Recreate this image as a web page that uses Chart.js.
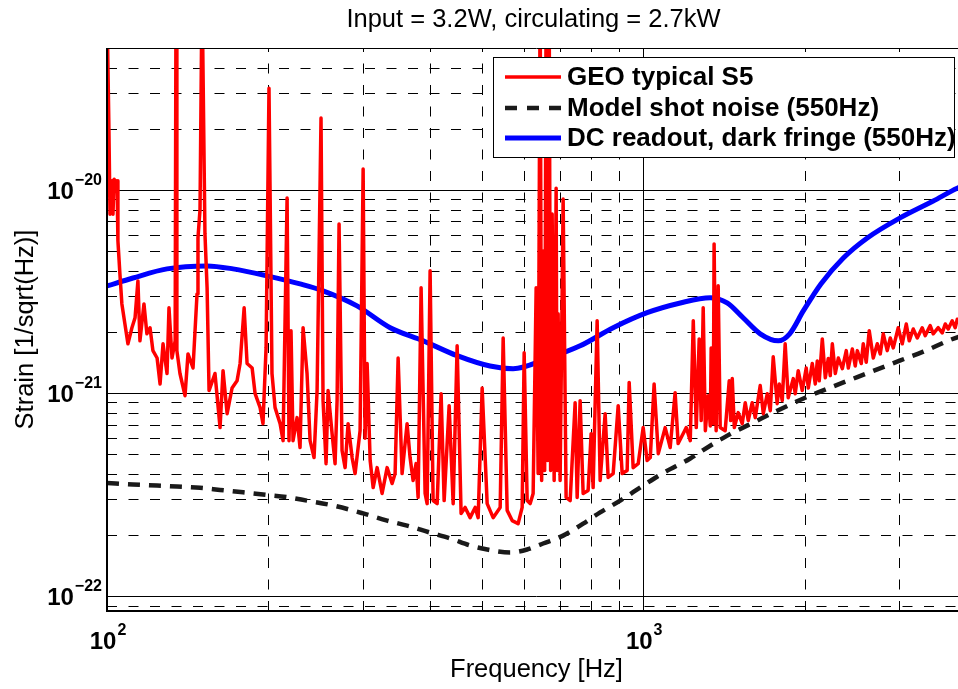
<!DOCTYPE html>
<html>
<head>
<meta charset="utf-8">
<script src="https://cdn.jsdelivr.net/npm/chart.js@4.4.1/dist/chart.umd.min.js"></script>
<style>
html, body { margin: 0; padding: 0; background: #fff; overflow: hidden; }
#wrap { width: 958px; height: 689px; overflow: hidden; }
canvas { display: block; }
</style>
</head>
<body>
<div id="wrap"><canvas id="myChart" width="1000" height="689"></canvas></div>
<script>
// text
const chartTitle = 'Input = 3.2W, circulating = 2.7kW';
const xTitle = 'Frequency [Hz]';
const yTitle = 'Strain [1/sqrt(Hz)]';
const legendLabels = ['GEO typical S5', 'Model shot noise (550Hz)', 'DC readout, dark fringe (550Hz)'];

// axes
const xRange = [100, 4000];
const yRange = [8.47e-23, 5e-20];
const xMajor = [100, 1000];
const xMajorLabels = ['2', '3'];
const xMinor = [200, 300, 400, 500, 600, 700, 800, 900, 2000, 3000];
const yMajor = [1e-22, 1e-21, 1e-20];
const yMajorLabels = ['\u221222', '\u221221', '\u221220'];
const yMinor = [9e-23, 2e-22, 3e-22, 4e-22, 5e-22, 6e-22, 7e-22, 8e-22, 9e-22,
                2e-21, 3e-21, 4e-21, 5e-21, 6e-21, 7e-21, 8e-21, 9e-21, 2e-20, 3e-20, 4e-20];

// GEO S5 spectrum [Hz, strain]
const geoSpectrum = [
  [100, 8e-20], [100.8, 2.1e-20], [101.3, 7.6e-21], [102.2, 1.11e-20], [102.6, 7.6e-21], [103.1, 1.13e-20],
  [103.9, 1.07e-20], [104.4, 1.11e-20], [104.8, 5.62e-21], [105.7, 3.87e-21], [106.6, 2.75e-21], [108.0, 2.19e-21],
  [109.4, 1.75e-21], [111.3, 2.10e-21], [112.8, 2.35e-21], [114.2, 3.57e-21], [115.2, 1.81e-21], [117.2, 2.75e-21],
  [118.7, 1.96e-21], [120.3, 2.10e-21], [121.8, 1.62e-21], [124.0, 1.49e-21], [125.6, 1.11e-21], [127.2, 1.75e-21],
  [129.4, 1.25e-21], [130.5, 2.63e-21], [132.2, 1.49e-21], [134.0, 1.81e-21], [134.5, 1e-19], [135.0, 1.62e-21],
  [136.8, 1.25e-21], [139.8, 9.72e-22], [141.6, 1.56e-21], [144.7, 1.33e-21], [147.2, 3.08e-21], [147.8, 5.81e-21],
  [149.1, 8e-21], [150.4, 1e-19], [152.3, 6.08e-21], [153.7, 3.30e-21], [155.0, 1.03e-21], [159.0, 1.25e-21],
  [162.5, 6.77e-22], [164.6, 1.29e-21], [167.5, 7.93e-22], [171.1, 1.06e-21], [174.8, 1.15e-21], [177.1, 1.40e-21],
  [180.2, 2.63e-21], [182.5, 1.40e-21], [186.5, 1.33e-21], [188.9, 9.94e-22], [193.0, 8.49e-22], [195.4, 7.08e-22],
  [198.0, 1.67e-21], [200.5, 3.17e-20], [203.1, 1.25e-21], [205.8, 8.49e-22], [210.3, 7.08e-22], [213.0, 5.84e-22],
  [216.7, 9.13e-21], [218.5, 5.84e-22], [220.4, 2.03e-21], [222.3, 5.84e-22], [226.2, 7.58e-22], [229.1, 5.40e-22],
  [232.1, 2.10e-21], [236.1, 1.25e-21], [239.2, 5.84e-22], [243.3, 4.82e-22], [246.5, 1.03e-21], [250.7, 2.26e-20],
  [252.9, 9.19e-22], [256.2, 4.50e-22], [258.4, 1.03e-21], [262.9, 6.32e-22], [266.3, 4.50e-22], [268.6, 9.19e-22],
  [270.9, 6.81e-21], [274.4, 5.22e-22], [278.0, 4.30e-22], [281.6, 7.08e-22], [286.5, 4.82e-22], [290.2, 4.02e-22],
  [296.5, 6.54e-22], [300.4, 1.27e-20], [302.9, 6.0e-22], [305.6, 1.40e-21], [309.6, 4.66e-22], [313.6, 3.43e-22],
  [319.0, 4.30e-22], [325.9, 3.21e-22], [333.0, 4.30e-22], [340.2, 3.59e-22], [344.6, 4.02e-22], [349.1, 1.49e-21],
  [355.1, 4.02e-22], [362.8, 7.08e-22], [367.5, 4.82e-22], [372.3, 3.72e-22], [377.1, 4.50e-22], [380.4, 3.07e-22],
  [385.3, 3.30e-21], [392.0, 3.21e-22], [395.4, 2.86e-22], [400.5, 4.0e-21], [405.7, 2.96e-22], [412.8, 2.86e-22],
  [419.9, 9.94e-22], [425.4, 2.96e-22], [434.6, 8.68e-22], [442.2, 2.86e-22], [449.8, 1.71e-21], [457.5, 2.56e-22],
  [465.5, 2.74e-22], [475.6, 2.44e-22], [486.0, 2.74e-22], [492.3, 2.44e-22], [500.8, 1.06e-21], [511.7, 2.86e-22],
  [525.0, 2.44e-22], [541.1, 2.74e-22], [548.1, 1.87e-21], [557.6, 2.65e-22], [569.7, 2.36e-22], [584.5, 2.28e-22],
  [594.7, 2.74e-22], [599.8, 1.58e-21], [607.6, 2.96e-22], [615.5, 2.86e-22], [623.4, 3.21e-22], [631.5, 3.30e-21],
  [636.9, 4.02e-22], [642.4, 1e-19], [646.6, 3.72e-22], [650.7, 5.01e-21], [655.0, 4.16e-22], [659.2, 1e-19],
  [663.4, 4.66e-22], [667.7, 1e-19], [672.0, 4.16e-22], [676.4, 7.62e-21], [682.3, 3.72e-22], [688.1, 1.02e-20],
  [691.0, 4.16e-22], [694.0, 2.46e-21], [700.0, 3.72e-22], [709.1, 9.03e-21], [718.2, 3.07e-22], [730.8, 2.96e-22],
  [746.6, 8.98e-22], [753.1, 3.07e-22], [762.8, 9.19e-22], [772.7, 3.21e-22], [789.4, 3.32e-22], [799.7, 6.32e-22],
  [806.6, 3.43e-22], [820.6, 2.27e-21], [831.3, 3.72e-22], [849.3, 7.93e-22], [860.3, 3.85e-22], [879.0, 4.02e-22],
  [898.2, 8.68e-22], [913.7, 4.02e-22], [933.5, 4.16e-22], [941.6, 1.13e-21], [957.9, 4.30e-22], [978.8, 4.50e-22],
  [1000, 6.77e-22], [1017, 4.66e-22], [1031, 4.82e-22], [1048, 1.11e-21], [1067, 5.04e-22], [1099, 6.77e-22],
  [1123, 5.40e-22], [1147, 1.006e-21], [1162, 5.65e-22], [1187, 6.32e-22], [1203, 6.77e-22], [1224, 5.84e-22],
  [1240, 2.27e-21], [1256, 6.77e-22], [1272, 1.85e-21], [1283, 7.33e-22], [1294, 2.63e-21], [1306, 6.54e-22],
  [1322, 9.72e-22], [1334, 6.9e-22], [1339, 1.67e-21], [1351, 7.08e-22], [1356, 5.43e-21], [1368, 6.54e-22],
  [1380, 3.38e-21], [1392, 6.77e-22], [1422, 6.54e-22], [1447, 1.15e-21], [1456, 7.33e-22], [1466, 1.18e-21],
  [1479, 6.77e-22], [1504, 8.02e-22], [1530, 7.08e-22], [1550, 8.98e-22], [1570, 7.33e-22], [1597, 8.98e-22],
  [1618, 7.58e-22], [1653, 1.09e-21], [1675, 7.93e-22], [1704, 9.94e-22], [1726, 8.20e-22], [1748, 1.51e-21],
  [1778, 8.88e-22], [1794, 1.11e-21], [1817, 9.19e-22], [1840, 1.75e-21], [1864, 9.50e-22], [1905, 1.18e-21],
  [1921, 9.94e-22], [1946, 1.29e-21], [1980, 1.03e-21], [2014, 1.33e-21], [2032, 1.06e-21], [2067, 1.40e-21],
  [2094, 1.11e-21], [2112, 1.44e-21], [2130, 1.15e-21], [2158, 1.85e-21], [2186, 1.19e-21], [2214, 1.48e-21],
  [2233, 1.22e-21], [2253, 1.75e-21], [2282, 1.25e-21], [2312, 1.49e-21], [2352, 1.32e-21], [2392, 1.62e-21],
  [2413, 1.33e-21], [2455, 1.65e-21], [2486, 1.36e-21], [2508, 1.62e-21], [2551, 1.40e-21], [2573, 1.75e-21],
  [2606, 1.42e-21], [2640, 2.03e-21], [2686, 1.49e-21], [2733, 1.75e-21], [2768, 1.56e-21], [2804, 1.96e-21],
  [2852, 1.62e-21], [2890, 1.87e-21], [2927, 1.67e-21], [2990, 2.10e-21], [3042, 1.75e-21], [3095, 2.19e-21],
  [3135, 1.81e-21], [3189, 2.07e-21], [3245, 1.87e-21], [3314, 2.10e-21], [3357, 1.92e-21], [3430, 2.15e-21],
  [3475, 1.96e-21], [3550, 2.10e-21], [3612, 1.98e-21], [3659, 2.19e-21], [3707, 2.07e-21], [3770, 2.27e-21],
  [3819, 2.10e-21], [3852, 2.31e-21], [4000, 2.27e-21]
];

// model shot noise [Hz, strain]
const shotNoise = [
  [100, 3.61e-22], [111.8, 3.55e-22], [124, 3.51e-22], [135.1, 3.47e-22], [149.1, 3.42e-22], [162.5, 3.34e-22],
  [179.4, 3.25e-22], [195.4, 3.17e-22], [216.7, 3.08e-22], [235.9, 2.96e-22], [264.1, 2.80e-22], [300.4, 2.56e-22],
  [333, 2.36e-22], [362.8, 2.23e-22], [400.5, 2.06e-22], [436.4, 1.93e-22], [475.6, 1.78e-22], [511.7, 1.70e-22],
  [564.9, 1.645e-22], [607.6, 1.70e-22], [650.7, 1.82e-22], [709.1, 1.99e-22], [772.7, 2.28e-22], [831.3, 2.59e-22],
  [906, 2.96e-22], [1000, 3.51e-22], [1090, 4.05e-22], [1224, 4.77e-22], [1294, 5.25e-22], [1435, 6.18e-22],
  [1632, 7.33e-22], [1778, 8.2e-22], [2023, 9.6e-22], [2262, 1.08e-21], [2508, 1.2e-21], [2733, 1.31e-21],
  [3017, 1.45e-21], [3330, 1.6e-21], [3740, 1.83e-21], [4000, 1.95e-21]
];

// DC readout, dark fringe [Hz, strain]
const dcReadout = [
  [100, 3.37e-21], [111.8, 3.69e-21], [129.4, 4.09e-21], [153.7, 4.23e-21], [171.8, 4.09e-21], [198.8, 3.78e-21],
  [229.1, 3.45e-21], [252.9, 3.19e-21], [292.6, 2.69e-21], [337.4, 2.10e-21], [388.8, 1.81e-21], [449.8, 1.53e-21],
  [518, 1.36e-21], [572, 1.32e-21], [662, 1.48e-21], [762.8, 1.71e-21], [879, 2.10e-21], [1017, 2.49e-21],
  [1173, 2.78e-21], [1334, 2.95e-21], [1434, 2.78e-21], [1536, 2.35e-21], [1653, 1.96e-21], [1786, 1.81e-21],
  [1876, 1.96e-21], [1989, 2.54e-21], [2145, 3.45e-21], [2362, 4.63e-21], [2618, 5.81e-21], [3013, 7.29e-21],
  [3475, 8.83e-21], [3852, 1.02e-20], [4000, 1.06e-20]
];

const FONT = '"Liberation Sans", Arial, Helvetica, sans-serif';

function toPoints(arr) {
    return arr.map(function (p) { return { x: p[0], y: p[1] }; });
}

function drawPower(ctx, exp, x, y, align) {
    ctx.font = 'bold 24px ' + FONT;
    var wb = ctx.measureText('10').width;
    ctx.font = 'bold 16px ' + FONT;
    var we = ctx.measureText(exp).width;
    var total = wb + 1 + we;
    var left = align === 'right' ? x - total : x - total / 2;
    ctx.textAlign = 'left';
    ctx.textBaseline = 'alphabetic';
    ctx.font = 'bold 24px ' + FONT;
    ctx.fillText('10', left, y);
    ctx.font = 'bold 16px ' + FONT;
    ctx.fillText(exp, left + wb + 1, y - 14);
}

const matlabAxes = {
    id: 'matlabAxes',
    beforeDatasetsDraw: function (chart) {
        const ctx = chart.ctx, a = chart.chartArea;
        const xs = chart.scales.x, ys = chart.scales.y;
        ctx.save();
        ctx.lineWidth = 1;
        ctx.strokeStyle = '#000';
        // minor grid, dashed
        ctx.setLineDash([10, 11.5]);
        xMinor.forEach(function (v) {
            var px = Math.round(xs.getPixelForValue(v)) + 0.5;
            ctx.beginPath(); ctx.moveTo(px, a.bottom); ctx.lineTo(px, a.top); ctx.stroke();
        });
        yMinor.forEach(function (v) {
            var py = Math.round(ys.getPixelForValue(v)) + 0.5;
            ctx.beginPath(); ctx.moveTo(a.left, py); ctx.lineTo(a.right, py); ctx.stroke();
        });
        // major grid, solid
        ctx.setLineDash([]);
        xMajor.forEach(function (v) {
            var px = Math.round(xs.getPixelForValue(v)) + 0.5;
            ctx.beginPath(); ctx.moveTo(px, a.bottom); ctx.lineTo(px, a.top); ctx.stroke();
        });
        yMajor.forEach(function (v) {
            var py = Math.round(ys.getPixelForValue(v)) + 0.5;
            ctx.beginPath(); ctx.moveTo(a.left, py); ctx.lineTo(a.right, py); ctx.stroke();
        });
        ctx.restore();
    },
    afterDatasetsDraw: function (chart) {
        const ctx = chart.ctx, a = chart.chartArea;
        ctx.save();
        // axes box
        ctx.strokeStyle = '#000';
        ctx.lineWidth = 1;
        ctx.beginPath(); ctx.moveTo(a.left, a.top + 0.5); ctx.lineTo(a.right, a.top + 0.5); ctx.stroke();
        ctx.lineWidth = 2;
        ctx.beginPath();
        ctx.moveTo(a.left, a.top); ctx.lineTo(a.left, a.bottom); ctx.lineTo(a.right, a.bottom);
        ctx.stroke();

        // legend box
        var lx = 493.5, ly = 57.5, lw = 461, lh = 100;
        ctx.fillStyle = '#fff';
        ctx.fillRect(lx, ly, lw, lh);
        ctx.lineWidth = 1;
        ctx.strokeRect(lx, ly, lw, lh);
        var rows = [77, 108, 138];
        var styles = [
            { color: '#ff0000', width: 3.5, dash: [] },
            { color: '#1a1a1a', width: 4.5, dash: [12, 10] },
            { color: '#0000ff', width: 5, dash: [] }
        ];
        for (var i = 0; i < 3; i++) {
            ctx.strokeStyle = styles[i].color;
            ctx.lineWidth = styles[i].width;
            ctx.setLineDash(styles[i].dash);
            ctx.beginPath(); ctx.moveTo(505, rows[i]); ctx.lineTo(561, rows[i]); ctx.stroke();
            ctx.setLineDash([]);
            ctx.fillStyle = '#000';
            ctx.font = 'bold 26px ' + FONT;
            ctx.textAlign = 'left';
            ctx.textBaseline = 'middle';
            ctx.fillText(legendLabels[i], 567, rows[i] + 1);
        }
        ctx.restore();
    },
    afterDraw: function (chart) {
        const ctx = chart.ctx, a = chart.chartArea;
        const xs = chart.scales.x, ys = chart.scales.y;
        ctx.save();
        ctx.fillStyle = '#000';
        // tick labels
        xMajor.forEach(function (v, i) {
            drawPower(ctx, xMajorLabels[i], xs.getPixelForValue(v) + 1, a.bottom + 38, 'center');
        });
        yMajor.forEach(function (v, i) {
            drawPower(ctx, yMajorLabels[i], a.left - 5, ys.getPixelForValue(v) + 9, 'right');
        });
        // title and axis titles
        var cx = (a.left + a.right) / 2;
        ctx.font = '25.5px ' + FONT;
        ctx.textAlign = 'center';
        ctx.textBaseline = 'alphabetic';
        ctx.fillText(chartTitle, cx - 3, 27);
        ctx.fillText(xTitle, cx, 677);
        ctx.translate(33, (a.top + a.bottom) / 2);
        ctx.rotate(-Math.PI / 2);
        ctx.fillText(yTitle, 0, 0);
        ctx.restore();
    }
};

const ctx = document.getElementById('myChart').getContext('2d');
const config = {
    type: 'line',
    data: {
        datasets: [{
            label: legendLabels[0],
            data: toPoints(geoSpectrum),
            borderColor: '#ff0000',
            borderWidth: 3.5,
            borderJoinStyle: 'round',
            pointRadius: 0,
            tension: 0,
            clip: 0,
            order: 0
        }, {
            label: legendLabels[2],
            data: toPoints(dcReadout),
            borderColor: '#0000ff',
            borderWidth: 5,
            pointRadius: 0,
            cubicInterpolationMode: 'monotone',
            clip: 0,
            order: 1
        }, {
            label: legendLabels[1],
            data: toPoints(shotNoise),
            borderColor: '#1a1a1a',
            borderWidth: 4.5,
            borderDash: [12, 9],
            pointRadius: 0,
            cubicInterpolationMode: 'monotone',
            clip: 0,
            order: 2
        }]
    },
    options: {
        responsive: false,
        animation: false,
        events: [],
        layout: { padding: { left: 107, right: 34, top: 48, bottom: 78 } },
        scales: {
            x: { type: 'logarithmic', min: xRange[0], max: xRange[1], display: false },
            y: { type: 'logarithmic', min: yRange[0], max: yRange[1], display: false }
        },
        plugins: {
            legend: { display: false },
            tooltip: { enabled: false },
            title: { display: false }
        }
    },
    plugins: [matlabAxes]
};
const myChart = new Chart(ctx, config);
</script>
</body>
</html>
